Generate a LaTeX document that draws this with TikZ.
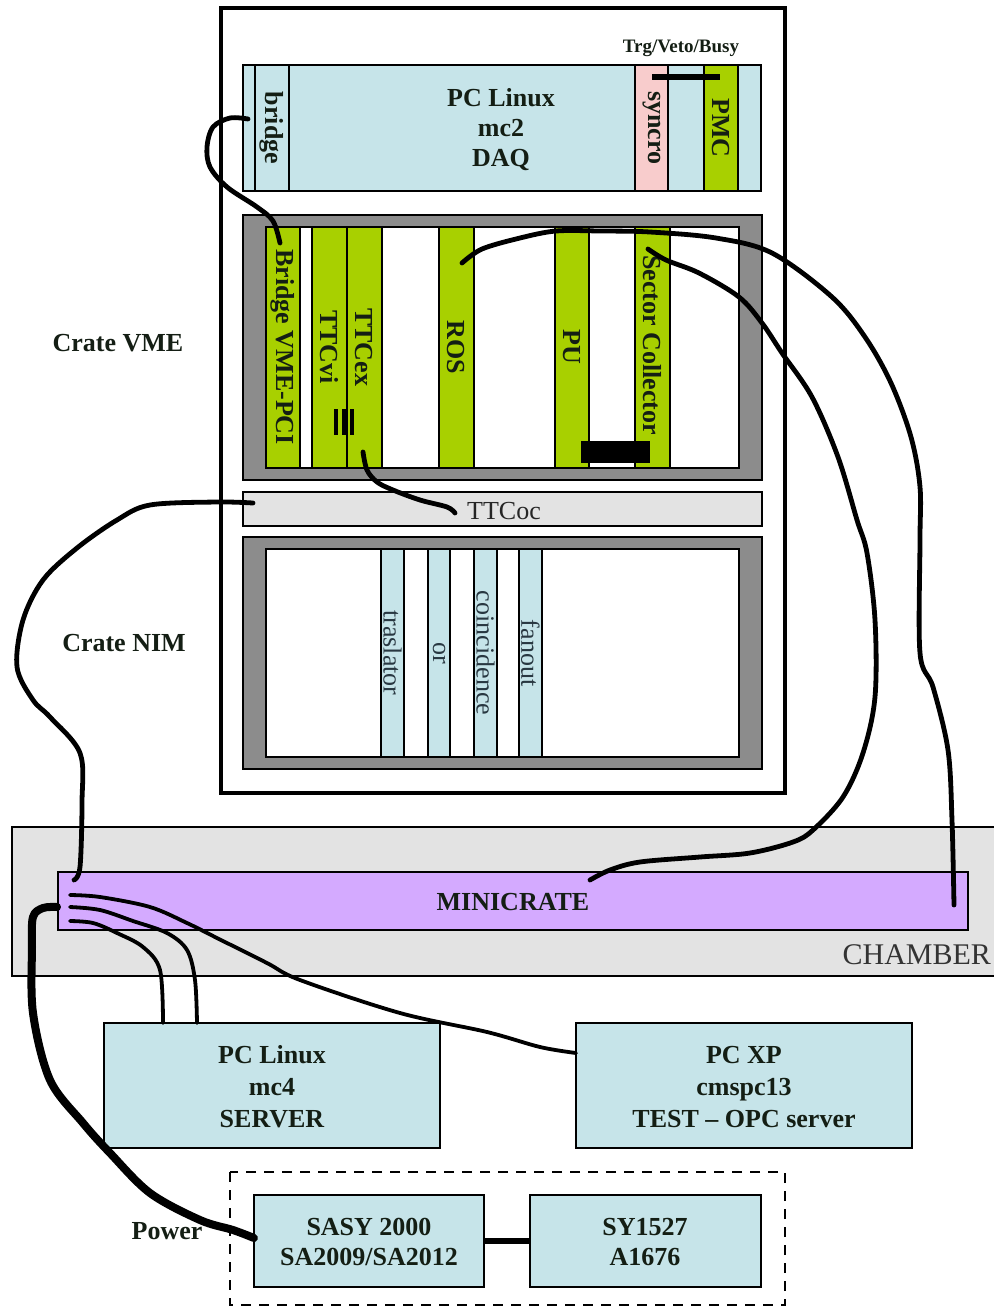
\documentclass[tikz,border=0pt]{standalone}
\usepackage{fontspec}
\setmainfont{Liberation Serif}
\definecolor{lblue}{RGB}{198,228,233}
\definecolor{lgreen}{RGB}{168,208,0}
\definecolor{lpink}{RGB}{248,204,204}
\definecolor{fgray}{RGB}{140,140,140}
\definecolor{lgray}{RGB}{227,227,227}
\definecolor{lpurple}{RGB}{212,170,255}
\definecolor{txtdark}{RGB}{20,30,20}
\definecolor{txtblue}{RGB}{40,55,65}
\newcommand\bx[7]{\node[#1, minimum width={(#5-#3)*0.5pt}, minimum height={(#6-#4)*0.5pt}] (#2) at ({(#3+#5)/2},{(#4+#6)/2}) {#7};}
\begin{document}
\begin{tikzpicture}[x=0.5pt,y=-0.5pt,
  every node/.style={inner sep=0pt, outer sep=0pt},
  base/.style={draw=black, line width=0.6pt, rectangle},
  rackbox/.style={draw=black, line width=1.6pt, fill=white},
  pcbox/.style={base, fill=lblue},
  greenmod/.style={base, fill=lgreen},
  bluemod/.style={base, fill=lblue},
  pinkmod/.style={base, fill=lpink},
  frame/.style={base, fill=fgray},
  inner/.style={base, fill=white},
  graybar/.style={base, fill=lgray},
  minibox/.style={base, fill=lpurple},
  blk/.style={fill=black, draw=black},
  bold/.style={font=\fontsize{13}{16}\selectfont\bfseries, text=txtdark, align=center},
  reg/.style={font=\fontsize{13}{16}\selectfont, text=txtblue, align=center},
  vlabel/.style={bold, rotate=-90},
  vreg/.style={reg, rotate=-90},
  cable/.style={draw=black, line width=2.4pt, line cap=round, line join=round},
  thincable/.style={draw=black, line width=1.9pt, line cap=round, line join=round},
  powercable/.style={draw=black, line width=4pt, line cap=round, line join=round},
  dashbox/.style={draw=black, line width=1pt, dash pattern=on 5pt off 4pt}
]
\useasboundingbox (0,0) rectangle (994,1308);
\fill[white] (0,0) rectangle (994,1308);

% rack
\bx{rackbox}{rack}{221}{8}{785}{793}{}

% top PC
\bx{pcbox}{pcdaq}{243}{65}{761}{191}{}
\bx{bluemod}{bridge}{255}{65}{289}{191}{}
\bx{pinkmod}{syncro}{635}{65}{668}{191}{}
\bx{bluemod}{slot}{668}{65}{704}{191}{}
\bx{greenmod}{pmc}{704}{65}{738}{191}{}
\node[vlabel] (bridgeL) at (272,128) {bridge};
\node[vlabel] (syncroL) at (652,128) {syncro};
\node[vlabel] (pmcL) at (721,128) {PMC};
\node[bold, font=\fontsize{13}{15}\selectfont\bfseries] (pcdaqL) at (501,130) {PC Linux\\mc2\\DAQ};
\node[bold, font=\fontsize{9.5}{11}\selectfont\bfseries] (trgL) at (681,48) {Trg/Veto/Busy};
\coordinate (trgA) at (652,77);
\coordinate (trgB) at (720,77);
\draw[line width=2.6pt] (trgA) -- (trgB);

% VME crate
\bx{frame}{vme}{243}{215}{762}{480}{}
\bx{inner}{vmein}{266}{227}{739}{468}{}
\bx{greenmod}{bvp}{266}{227}{300}{468}{}
\bx{greenmod}{ttcvi}{312}{227}{347}{468}{}
\bx{greenmod}{ttcex}{347}{227}{382}{468}{}
\bx{greenmod}{ros}{439}{227}{474}{468}{}
\bx{greenmod}{pu}{555}{227}{589}{468}{}
\bx{greenmod}{sc}{635}{227}{670}{468}{}
\node[vlabel] at (283,347) {Bridge VME-PCI};
\node[vlabel] at (329,347) {TTCvi};
\node[vlabel] at (364,347) {TTCex};
\node[vlabel] at (456,347) {ROS};
\node[vlabel] at (572,347) {PU};
\node[vlabel] at (652,345) {Sector Collector};
\foreach \xx in {336,344,352} \draw[line width=2.4pt] (\xx,409) -- (\xx,435);
\bx{blk}{blkrect}{581}{441}{649}{462}{}

% TTCoc
\bx{graybar}{ttcoc}{243}{492}{762}{526}{}
\node[reg, text=black!85] (ttcocL) at (504,511) {TTCoc};

% NIM crate
\bx{frame}{nim}{243}{537}{762}{769}{}
\bx{inner}{nimin}{266}{549}{739}{757}{}
\bx{bluemod}{tras}{381}{549}{404}{757}{}
\bx{bluemod}{or}{428}{549}{450}{757}{}
\bx{bluemod}{coinc}{474}{549}{497}{757}{}
\bx{bluemod}{fan}{519}{549}{542}{757}{}
\node[vreg] at (392.5,653) {traslator};
\node[vreg] at (439,653) {or};
\node[vreg] at (485.5,653) {coincidence};
\node[vreg] at (530.5,653) {fanout};

\node[bold] (crateVME) at (118,343) {Crate VME};
\node[bold] (crateNIM) at (124,643) {Crate NIM};

% chamber
\bx{graybar}{chamber}{12}{827}{1004}{976}{}
\node[reg, text=black!80, font=\fontsize{15}{18}\selectfont, anchor=east] (chamberL) at (991,955) {CHAMBER};
\bx{minibox}{mini}{58}{872}{968}{930}{}
\node[bold] (miniL) at (513,902) {MINICRATE};

% PCs
\bx{pcbox}{mc4}{104}{1023}{440}{1148}{}
\node[bold] at (272,1087) {PC Linux\\mc4\\SERVER};
\bx{pcbox}{xp}{576}{1023}{912}{1148}{}
\node[bold] at (744,1087) {PC XP\\cmspc13\\TEST -- OPC server};

% power
\draw[dashbox] (230,1172) rectangle (785,1305);
\bx{pcbox}{sasy}{254}{1195}{484}{1287}{}
\node[bold, font=\fontsize{13}{15}\selectfont\bfseries] at (369,1242) {SASY 2000\\SA2009/SA2012};
\bx{pcbox}{sy}{530}{1195}{761}{1287}{}
\node[bold, font=\fontsize{13}{15}\selectfont\bfseries] at (645,1242) {SY1527\\A1676};
\draw[line width=2.6pt] (sasy.east |- 0,1241) -- (sy.west |- 0,1241);
\node[bold] (powerL) at (167,1231) {Power};

% cable end points
\coordinate (bridgePin) at (248,119);
\coordinate (bvpPin) at (280,243);
\coordinate (ttcexPin) at (363,452);
\coordinate (ttcocPin) at (455,513);
\coordinate (rosPin) at (462,263);
\coordinate (scPin) at (648,249);
\coordinate (miniR) at (954,905);
\coordinate (miniM) at (590,880);
\coordinate (ttcocL) at (253,503);
\coordinate (miniL1) at (74,880);
\coordinate (miniP) at (57,907);
\coordinate (sasyPin) at (254,1238);
\coordinate (miniA) at (70,895);
\coordinate (miniB) at (70,907);
\coordinate (miniC) at (70,921);
\coordinate (xpPin) at (576,1053);
\coordinate (mc4A) at (197,1023);
\coordinate (mc4B) at (163,1023);

% cables
\draw[cable] plot[smooth, tension=0.55] coordinates {(bridgePin) (230,118) (213,127) (207,147) (210,167) (227,187) (257,207) (273,221) (bvpPin)};
\draw[cable] plot[smooth, tension=0.55] coordinates {(ttcexPin) (367,470) (377,482) (393,490) (420,500) (447,507) (ttcocPin)};
\draw[cable] plot[smooth, tension=0.55] coordinates {(rosPin) (482,249) (520,238) (556,231) (600,231) (650,232) (716,238) (772,253) (832,297) (865,337) (891,383) (911,437) (920,487) (920,540) (920,653) (933,687) (948,750) (952,820) (miniR)};
\draw[cable] plot[smooth, tension=0.55] coordinates {(scPin) (666,260) (699,273) (739,297) (762,323) (782,353) (812,397) (838,457) (857,520) (867,553) (875,620) (875,697) (863,753) (843,797) (813,830) (793,842) (750,853) (700,857) (640,862) (610,870) (miniM)};
\draw[cable] plot[smooth, tension=0.55] coordinates {(ttcocL) (217,502) (150,505) (117,520) (77,548) (43,580) (23,620) (17,667) (33,700) (50,717) (80,753) (82,803) (80,867) (miniL1)};
\draw[powercable] plot[smooth, tension=0.55] coordinates {(miniP) (43,908) (33,917) (32,947) (33,1013) (50,1080) (83,1123) (110,1153) (150,1193) (200,1220) (233,1230) (sasyPin)};
\draw[thincable] plot[smooth, tension=0.55] coordinates {(miniA) (100,897) (150,907) (187,923) (217,938) (267,963) (300,980) (400,1013) (487,1032) (540,1047) (xpPin)};
\draw[thincable] plot[smooth, tension=0.55] coordinates {(miniB) (100,910) (133,921) (167,933) (187,950) (195,980) (mc4A)};
\draw[thincable] plot[smooth, tension=0.55] coordinates {(miniC) (93,923) (117,933) (143,947) (160,970) (mc4B)};
\end{tikzpicture}
\end{document}
